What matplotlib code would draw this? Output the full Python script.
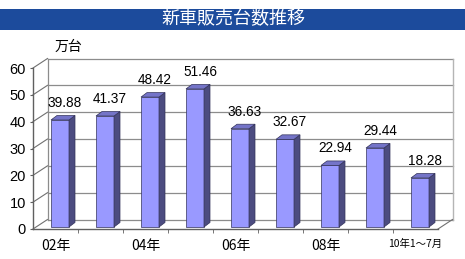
import matplotlib
matplotlib.use("Agg")
import matplotlib.pyplot as plt
from matplotlib.patches import Polygon, Rectangle

categories = ["02年", "03年", "04年", "05年", "06年", "07年", "08年", "09年", "10年1～7月"]
tick_labels = ["02年", "", "04年", "", "06年", "", "08年", "", "10年1～7月"]
sales = [39.88, 41.37, 48.42, 51.46, 36.63, 32.67, 22.94, 29.44, 18.28]
y_ticks = [0, 10, 20, 30, 40, 50, 60]

JP = ["Noto Sans CJK JP", "DejaVu Sans"]
NUM = ["Liberation Sans", "DejaVu Sans"]

W, H = 465, 259
fig = plt.figure(figsize=(W / 100, H / 100), dpi=100)
fig.patch.set_facecolor("white")

# title band
fig.patches.append(Rectangle((0, 1 - 30 / H), 1, 21 / H, transform=fig.transFigure,
                             facecolor="#1c4b9c", edgecolor="none"))
fig.text(233 / W, 1 - 19.5 / H, "新車販売台数推移", color="white", fontsize=13,
         family=JP, ha="center", va="center")
fig.text(68 / W, 1 - 47 / H, "万台", fontsize=10, family=JP, ha="center", va="center")

# front frame: x 33..438 px, y 229..68 px
ax = fig.add_axes([33 / W, (H - 229) / H, 405 / W, 161 / H])
n = len(sales)
ax.set_xlim(-0.5, n - 0.5)
ax.set_ylim(0, 60)
ax.patch.set_visible(False)

px_x = 1 / 45.0           # data units per pixel, x
px_y = 60 / 161.0         # data units per pixel, y
dx, dy = 14.5 * px_x, 9.5 * px_y   # wall depth
x0, x1 = -0.5, n - 0.5

grid_c = "#8c8c8c"
# back wall gridlines + left wall diagonals
for t in y_ticks:
    ax.plot([x0 + dx, x1 + dx], [t + dy, t + dy], color=grid_c, lw=0.9, clip_on=False, zorder=1)
    ax.plot([x0, x0 + dx], [t, t + dy], color="#707070", lw=0.8, clip_on=False, zorder=1)
ax.plot([x0 + dx, x0 + dx], [dy, 60 + dy], color=grid_c, lw=0.9, clip_on=False, zorder=1)
ax.plot([x1 + dx, x1 + dx], [dy, 60 + dy], color="#b5b5b5", lw=1.0, clip_on=False, zorder=1)
ax.plot([x1, x1 + dx], [0, dy], color="#707070", lw=0.8, clip_on=False, zorder=1)

# bars
fx, fy = 4.5 * px_x, 2.0 * px_y      # bar front offset inside the depth
bw = 18 * px_x
bdx, bdy = 6 * px_x, 4.5 * px_y      # bar depth
xs = [i + fx for i in range(n)]
ax.bar(xs, sales, width=bw, bottom=fy, color="#9999ff", edgecolor="#33335a",
       linewidth=0.5, zorder=3)
for x, v in zip(xs, sales):
    l, r = x - bw / 2, x + bw / 2
    top = v + fy
    ax.add_patch(Polygon([(r, fy), (r + bdx, fy + bdy), (r + bdx, top + bdy), (r, top)],
                         closed=True, facecolor="#4c4c80", edgecolor="#33335a", lw=0.5, zorder=3))
    ax.add_patch(Polygon([(l, top), (r, top), (r + bdx, top + bdy), (l + bdx, top + bdy)],
                         closed=True, facecolor="#7474c8", edgecolor="#33335a", lw=0.5, zorder=3))
    ax.text(x + 5 * px_x, top + bdy + 5.5 * px_y, f"{v:.2f}", ha="center", va="bottom",
            fontsize=9.8, family=NUM, zorder=4)

# axes
for s in ["top", "right"]:
    ax.spines[s].set_visible(False)
for s in ["left", "bottom"]:
    ax.spines[s].set_color("#606060")
    ax.spines[s].set_linewidth(1.0)

ax.set_yticks(y_ticks)
ax.set_yticklabels([str(t) for t in y_ticks], fontsize=10.5, family=NUM)
ax.tick_params(axis="y", length=2, pad=3, color="#606060")

ax.set_xticks(range(n))
ax.set_xticklabels(tick_labels, family=JP, fontsize=10)
ax.xaxis.get_ticklabels()[-1].set_fontsize(7.5)
ax.set_xticks([i + 0.5 for i in range(n - 1)], minor=True)
ax.tick_params(axis="x", which="major", length=0, pad=7)
ax.tick_params(axis="x", which="minor", length=3, color="#606060")

fig.savefig("out.png", dpi=100)
